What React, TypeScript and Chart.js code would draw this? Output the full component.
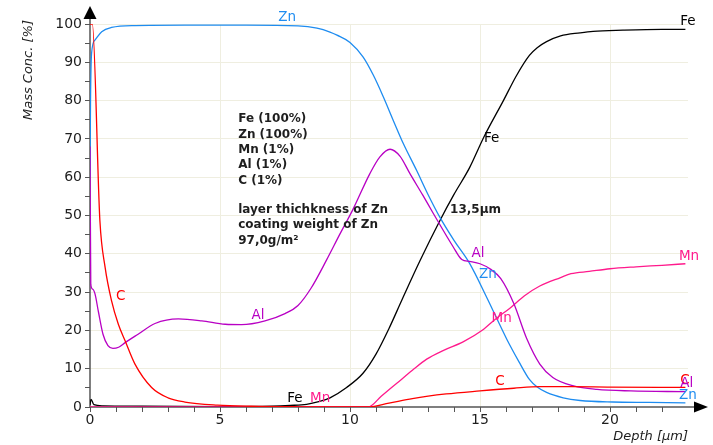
import { useEffect, useRef } from "react";
import { Chart, registerables } from "chart.js";

Chart.register(...registerables);

// ---------- data (depth in µm, concentration in %) ----------
const feDepth = [0, 0.04, 0.15, 0.5, 2, 5, 7, 7.7, 8.33, 8.8, 9.23, 9.87, 10.5, 11.0, 11.5, 12.0, 12.7, 13.46, 14.0, 14.6, 15.15, 15.9, 16.4, 16.9, 17.2, 17.56, 18.1, 18.85, 19.35, 20.5, 22, 22.9];
const feConc = [0.5, 2, 0.6, 0.3, 0.2, 0.1, 0.2, 0.4, 0.7, 1.4, 2.4, 5.1, 8.8, 13.8, 20.5, 28, 38.3, 48.7, 55.5, 62.5, 70.5, 80, 86.5, 91.8, 93.8, 95.4, 96.9, 97.7, 98.1, 98.4, 98.6, 98.6];

const znDepth = [0, 0.02, 0.06, 0.19, 0.45, 0.83, 1.73, 3.65, 6, 8, 8.73, 9.23, 9.5, 10, 10.5, 10.9, 11.28, 11.66, 12.05, 12.56, 13.0, 13.46, 14.0, 14.6, 15.26, 16.03, 16.5, 16.9, 17.2, 17.56, 18.2, 18.85, 20.1, 21.5, 22.9];
const znConc = [60, 80, 92.3, 95.8, 98, 99.1, 99.6, 99.7, 99.7, 99.5, 98.9, 97.9, 97.1, 95.2, 91.4, 86.6, 81, 74.9, 68.8, 61.8, 55.5, 49.5, 43.5, 37.5, 28.6, 17.7, 11.8, 7.2, 5.2, 3.8, 2.4, 1.7, 1.3, 1.2, 1.1];

const alDepth = [0, 0.03, 0.1, 0.19, 0.32, 0.5, 0.69, 0.88, 1.1, 1.35, 1.85, 2.5, 3.4, 4.3, 5.2, 5.83, 6.73, 7.5, 8.0, 8.5, 9.1, 9.6, 10.1, 10.77, 11.15, 11.54, 11.92, 12.3, 12.8, 13.2, 13.96, 14.3, 14.6, 15.0, 15.4, 15.8, 16.3, 16.8, 17.3, 17.8, 18.6, 19.5, 20.8, 22.9];
const alConc = [68, 32, 30.8, 29.6, 25, 19, 16, 15.3, 15.6, 16.8, 19, 21.8, 23, 22.5, 21.6, 21.5, 22.5, 24.4, 26.5, 31, 38.4, 45, 51.4, 61, 65.3, 67.3, 65.5, 61, 55.3, 50.6, 41.9, 38.5, 38, 37.4, 36, 33.5, 27, 17.8, 11.2, 7.7, 5.5, 4.6, 4.2, 4.0];

const mnDepth = [0, 10.7, 11.2, 11.8, 12.4, 12.95, 13.6, 14.35, 15.1, 15.6, 16.15, 16.7, 17.3, 18.1, 18.5, 19.2, 20, 21, 22, 22.9];
const mnConc = [0, 0, 2.8, 6.2, 9.6, 12.5, 14.8, 17, 20.1, 23, 25.8, 29, 31.6, 33.8, 34.8, 35.4, 36.1, 36.6, 37, 37.4];

const cDepth = [0, 0.09, 0.38, 0.58, 0.83, 1.09, 1.35, 1.73, 2.37, 3.0, 3.65, 4.9, 6.2, 8, 10, 10.7, 11.5, 12.4, 13.7, 15, 16.3, 17.3, 18.5, 20, 22.9];
const cConc = [100, 100, 48.7, 36.5, 27.7, 21.6, 17.3, 11.2, 5.1, 2.4, 1.3, 0.5, 0.2, 0.05, 0, 0, 1, 2.2, 3.4, 4.2, 4.9, 5.3, 5.3, 5.2, 5.1];

const xMin = 0;
const xMax = 23;
const yMin = 0;
const yMax = 100;
const xLabelEvery = 5;
const yLabelEvery = 10;

const infoLines = ["Fe (100%)", "Zn (100%)", "Mn (1%)", "Al (1%)", "C (1%)"];
const coatingLines = ["layer thichkness of Zn", "coating weight of Zn", "97,0g/m²"];
const thicknessText = "13,5µm";

// ---------- styles ----------
const FONT = "'DejaVu Sans', Verdana, sans-serif";
const COL_FE = "#000000";
const COL_ZN = "#1e8cf0";
const COL_MN = "#ff1a8c";
const COL_AL = "#b800c4";
const COL_C = "#ff0000";
const GRID = "#efeee0";
const AXIS = "#555555";
const TEXT = "#1e1e1e";
const TRANSPARENT = "rgba(0,0,0,0)";

// curve name labels placed in data coordinates
const curveLabels = [
  { text: "Zn", x: 7.58, y: 101.7, color: COL_ZN },
  { text: "Fe", x: 23.0, y: 100.6, color: COL_FE },
  { text: "Fe", x: 15.45, y: 70.2, color: COL_FE },
  { text: "C", x: 1.18, y: 28.8, color: COL_C },
  { text: "Al", x: 6.46, y: 24.0, color: COL_AL },
  { text: "Al", x: 14.92, y: 40.2, color: COL_AL },
  { text: "Zn", x: 15.3, y: 34.5, color: COL_ZN },
  { text: "Mn", x: 15.83, y: 23.2, color: COL_MN },
  { text: "Mn", x: 23.04, y: 39.2, color: COL_MN },
  { text: "Fe", x: 7.88, y: 2.3, color: COL_FE },
  { text: "Mn", x: 8.85, y: 2.1, color: COL_MN },
  { text: "C", x: 15.77, y: 6.6, color: COL_C },
  { text: "C", x: 22.88, y: 7.0, color: COL_C },
  { text: "Al", x: 22.95, y: 6.2, color: COL_AL },
  { text: "Zn", x: 23.0, y: 3.1, color: COL_ZN },
];

const pts = (xs: number[], ys: number[]) => xs.map((x, i) => ({ x, y: ys[i] }));

const decorPlugin = {
  id: "decor",
  beforeDatasetsDraw(chart: any) {
    const { ctx, chartArea } = chart;
    const x0 = chartArea.left;
    const y0 = chartArea.bottom;
    ctx.save();
    ctx.strokeStyle = AXIS;
    ctx.lineWidth = 1.5;
    ctx.beginPath();
    ctx.moveTo(x0, y0);
    ctx.lineTo(x0, 12);
    ctx.moveTo(x0, y0);
    ctx.lineTo(chart.width - 12, y0);
    ctx.stroke();
    ctx.fillStyle = "#000";
    ctx.beginPath();
    ctx.moveTo(x0, 6);
    ctx.lineTo(x0 - 6.5, 19);
    ctx.lineTo(x0 + 6.5, 19);
    ctx.closePath();
    ctx.fill();
    ctx.beginPath();
    ctx.moveTo(chart.width - 5, y0);
    ctx.lineTo(chart.width - 19, y0 - 5.5);
    ctx.lineTo(chart.width - 19, y0 + 5.5);
    ctx.closePath();
    ctx.fill();
    ctx.restore();
  },
  afterDatasetsDraw(chart: any) {
    const { ctx, chartArea } = chart;
    const xs = chart.scales.x;
    const ys = chart.scales.y;
    ctx.save();
    // axis titles
    ctx.fillStyle = TEXT;
    ctx.font = `italic 13px ${FONT}`;
    ctx.textBaseline = "middle";
    ctx.textAlign = "right";
    ctx.fillText("Depth [µm]", chartArea.right, 437);
    ctx.save();
    ctx.translate(29, 70);
    ctx.rotate(-Math.PI / 2);
    ctx.textAlign = "center";
    ctx.fillText("Mass Conc. [%]", 0, 0);
    ctx.restore();

    // info block
    ctx.font = `bold 12px ${FONT}`;
    ctx.textAlign = "left";
    ctx.fillStyle = TEXT;
    const bx = xs.getPixelForValue(5.7);
    const by = ys.getPixelForValue(75.1);
    infoLines.forEach((t, i) => ctx.fillText(t, bx, by + i * 15.3));
    const cy = ys.getPixelForValue(51.4);
    coatingLines.forEach((t, i) => ctx.fillText(t, bx, cy + i * 15.2));
    ctx.fillText(thicknessText, xs.getPixelForValue(13.85), cy);

    // curve labels
    ctx.font = `13.5px ${FONT}`;
    ctx.textAlign = "center";
    curveLabels.forEach((l) => {
      ctx.fillStyle = l.color;
      ctx.fillText(l.text, xs.getPixelForValue(l.x), ys.getPixelForValue(l.y));
    });
    ctx.restore();
  },
};

export default function App() {
  const ref = useRef<HTMLCanvasElement | null>(null);
  useEffect(() => {
    if (!ref.current) return;
    const line = (label: string, xs: number[], ys: number[], color: string) => ({
      label,
      data: pts(xs, ys),
      borderColor: color,
      backgroundColor: color,
      borderWidth: 1.3,
      pointRadius: 0,
      fill: false,
      cubicInterpolationMode: "monotone" as const,
    });
    const chart = new Chart(ref.current, {
      type: "line",
      data: {
        datasets: [
          line("C", cDepth, cConc, COL_C),
          line("Al", alDepth, alConc, COL_AL),
          line("Mn", mnDepth, mnConc, COL_MN),
          line("Zn", znDepth, znConc, COL_ZN),
          line("Fe", feDepth, feConc, COL_FE),
        ],
      },
      options: {
        responsive: false,
        animation: false,
        devicePixelRatio: 1,
        layout: { padding: { left: 0, top: 24, right: 25, bottom: 0 } },
        plugins: {
          legend: { display: false },
          tooltip: { enabled: false },
          title: { display: false },
        },
        scales: {
          x: {
            type: "linear",
            min: xMin,
            max: xMax,
            afterFit: (s: any) => {
              s.height = 38;
            },
            border: { display: false },
            grid: {
              color: (c: any) =>
                c.tick && c.tick.value % xLabelEvery === 0 && c.tick.value !== 0 ? GRID : TRANSPARENT,
              tickColor: (c: any) => (c.tick && c.tick.value === xMax ? TRANSPARENT : AXIS),
              tickLength: 5,
              lineWidth: 1,
            },
            ticks: {
              stepSize: 1,
              autoSkip: false,
              maxRotation: 0,
              padding: 0,
              color: TEXT,
              font: { family: FONT, size: 14 },
              callback: (v: any) => (Number(v) % xLabelEvery === 0 ? String(v) : ""),
            },
          },
          y: {
            type: "linear",
            min: yMin,
            max: yMax,
            afterFit: (s: any) => {
              s.width = 90;
            },
            border: { display: false },
            grid: {
              color: (c: any) =>
                c.tick && c.tick.value % yLabelEvery === 0 && c.tick.value !== 0 ? GRID : TRANSPARENT,
              tickColor: AXIS,
              tickLength: 5,
              lineWidth: 1,
            },
            ticks: {
              stepSize: 5,
              autoSkip: false,
              padding: 3,
              color: TEXT,
              font: { family: FONT, size: 14 },
              callback: (v: any) => (Number(v) % yLabelEvery === 0 ? String(v) : ""),
            },
          },
        },
      },
      plugins: [decorPlugin],
    });
    return () => chart.destroy();
  }, []);

  return (
    <div style={{ position: "fixed", left: 0, top: 0, width: 713, height: 445, background: "#fff" }}>
      <canvas ref={ref} width={713} height={445} style={{ display: "block" }} />
    </div>
  );
}
